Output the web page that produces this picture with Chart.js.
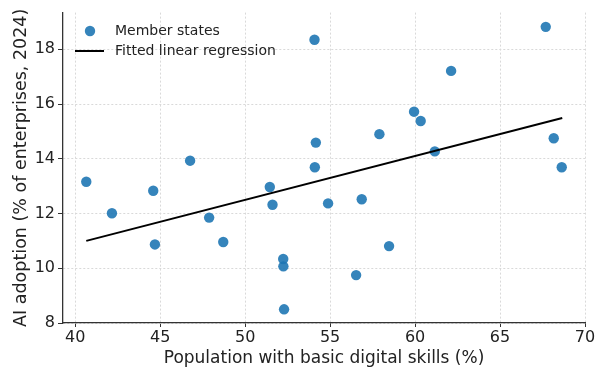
<!DOCTYPE html>
<html>
<head>
<meta charset="utf-8">
<script src="https://cdn.jsdelivr.net/npm/chart.js@4"></script>
<style>
  html, body { margin: 0; padding: 0; background: #fff; }
  #wrap { width: 603px; height: 370px; }
</style>
</head>
<body>
<div id="wrap"><canvas id="myChart" width="603" height="370"></canvas></div>
<script>
// digital skills (%) vs AI adoption (% of enterprises, 2024), one point per member state
const skills = [40.65, 42.16, 44.59, 44.69, 46.76, 47.88, 48.71, 51.45, 51.61, 52.24, 52.25, 52.29, 54.10, 54.88,
    54.08, 54.16, 56.86, 56.53, 58.47, 68.63, 57.90, 59.94, 60.33, 61.16, 62.12, 67.69, 68.16];
const adoption = [13.16, 12.01, 12.83, 10.87, 13.93, 11.85, 10.96, 12.97, 12.32, 10.34, 10.07, 8.50, 13.69, 12.37,
    18.35, 14.59, 12.52, 9.75, 10.81, 13.69, 14.90, 15.72, 15.38, 14.27, 17.21, 18.82, 14.75];

// fitted line end points
const fitX = [40.65, 68.66];
const fitY = [11.00, 15.49];

const xTicks = [40, 45, 50, 55, 60, 65, 70];
const yTicks = [8, 10, 12, 14, 16, 18];

const pointColor = 'rgba(31, 119, 180, 0.9)';
const font = 'DejaVu Sans';

// legend drawn inside the plot, top left
const innerLegend = {
    id: 'innerLegend',
    afterDraw(chart) {
        const ctx = chart.ctx;
        const ds = chart.data.datasets;
        ctx.save();
        ctx.font = '14px "' + font + '"';
        ctx.textBaseline = 'middle';
        // scatter entry
        ctx.beginPath();
        ctx.arc(90, 31, 5.2, 0, Math.PI * 2);
        ctx.fillStyle = pointColor;
        ctx.fill();
        ctx.fillStyle = '#222';
        ctx.fillText(ds[1].label, 115, 31);
        // line entry
        ctx.beginPath();
        ctx.moveTo(75, 51);
        ctx.lineTo(104, 51);
        ctx.strokeStyle = '#000';
        ctx.lineWidth = 2;
        ctx.stroke();
        ctx.fillText(ds[0].label, 115, 51);
        ctx.restore();
    }
};

const ctx = document.getElementById('myChart').getContext('2d');
new Chart(ctx, {
    type: 'scatter',
    data: {
        datasets: [{
            type: 'line',
            label: 'Fitted linear regression',
            data: fitX.map((x, i) => ({ x: x, y: fitY[i] })),
            borderColor: '#000',
            borderWidth: 2,
            pointRadius: 0,
            fill: false,
            order: 0
        }, {
            label: 'Member states',
            data: skills.map((x, i) => ({ x: x, y: adoption[i] })),
            backgroundColor: pointColor,
            borderColor: pointColor,
            borderWidth: 0,
            pointRadius: 5.2,
            order: 1
        }]
    },
    options: {
        responsive: false,
        animation: false,
        layout: { padding: { top: 10, right: 18, left: 0, bottom: 0 } },
        plugins: {
            legend: { display: false },
            tooltip: { enabled: false }
        },
        scales: {
            x: {
                type: 'linear',
                min: 39.28,
                max: 70,
                afterBuildTicks: (scale) => { scale.ticks = xTicks.map(v => ({ value: v })); },
                afterFit: (scale) => { scale.height = 47; },
                ticks: {
                    includeBounds: false,
                    padding: 1,
                    color: '#222',
                    font: { family: font, size: 16 },
                    maxRotation: 0
                },
                grid: { color: '#d9d9d9', lineWidth: 1, tickLength: 4, tickColor: '#333' },
                border: { color: '#333', width: 1.3, dash: [2, 2] },
                title: {
                    display: true,
                    text: 'Population with basic digital skills (%)',
                    color: '#222',
                    font: { family: font, size: 17 },
                    padding: { top: 0, bottom: 1 }
                }
            },
            y: {
                type: 'linear',
                min: 8,
                max: 19.34,
                afterBuildTicks: (scale) => { scale.ticks = yTicks.map(v => ({ value: v })); },
                afterFit: (scale) => { scale.width = 63; },
                ticks: {
                    includeBounds: false,
                    padding: 3,
                    color: '#222',
                    font: { family: font, size: 16 }
                },
                grid: { color: '#d9d9d9', lineWidth: 1, tickLength: 5, tickColor: '#333' },
                border: { color: '#333', width: 1.3, dash: [2, 2] },
                title: {
                    display: true,
                    text: 'AI adoption (% of enterprises, 2024)',
                    color: '#222',
                    font: { family: font, size: 17.5 },
                    padding: { top: 11, bottom: 0 }
                }
            }
        }
    },
    plugins: [innerLegend]
});
</script>
</body>
</html>
